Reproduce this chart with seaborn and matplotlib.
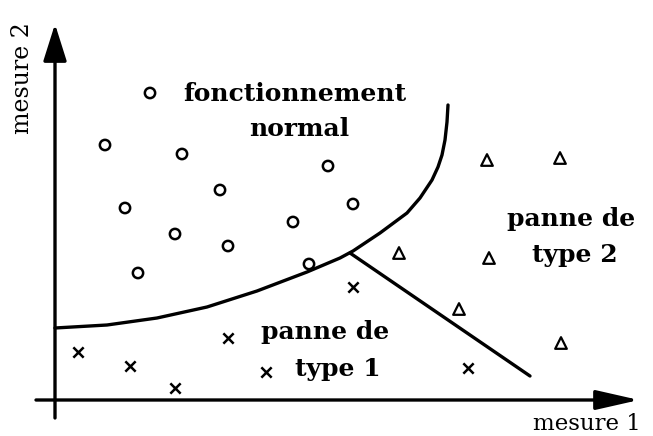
import matplotlib
matplotlib.use("Agg")
import matplotlib.pyplot as plt
import seaborn as sns

# Data (pixel-like coordinates, y downwards)
normal_x = [150, 105, 182, 220, 125, 293, 175, 228, 138, 328, 353, 309]
normal_y = [93, 145, 154, 190, 208, 222, 234, 246, 273, 166, 204, 264]
type1_x = [78, 130, 175, 228, 266, 353, 468]
type1_y = [352, 366, 388, 338, 372, 287, 368]
type2_x = [487, 560, 399, 489, 459, 561]
type2_y = [160, 158, 253, 258, 309, 343]

curve_x = [55, 107, 157, 207, 257, 307, 340, 353, 380, 407, 420, 432, 438, 442, 445, 447, 448]
curve_y = [328, 325, 318, 307, 291, 272, 258, 251, 233, 213, 198, 180, 167, 155, 140, 122, 105]
line_x = [350, 530]
line_y = [253, 376]

label_lines = ["fonctionnement", "normal", "panne de", "type 1", "panne de", "type 2"]
label_x = [295, 299, 325, 338, 571, 575]
label_y = [101, 136, 339, 376, 226, 262]

sns.set_theme(style="white")
plt.rcParams["font.family"] = ["DejaVu Serif", "Liberation Serif"]

fig = plt.figure(figsize=(6.53, 4.36), dpi=100)
ax = fig.add_axes([0, 0, 1, 1])
ax.set_xlim(0, 653)
ax.set_ylim(436, 0)
ax.axis("off")

sns.lineplot(x=curve_x, y=curve_y, sort=False, estimator=None, color="black", lw=2.4, ax=ax)
sns.lineplot(x=line_x, y=line_y, sort=False, estimator=None, color="black", lw=2.4, ax=ax)

sns.scatterplot(x=normal_x, y=normal_y, marker="o", s=55, facecolor="none",
                edgecolor="black", linewidth=1.8, ax=ax, zorder=3)
sns.scatterplot(x=type1_x, y=type1_y, marker="x", s=55, color="black",
                linewidth=1.8, ax=ax, zorder=3)
sns.scatterplot(x=type2_x, y=type2_y, marker="^", s=70, facecolor="none",
                edgecolor="black", linewidth=1.6, ax=ax, zorder=3)

# axes arrows
ax.annotate("", xy=(55, 24), xytext=(55, 418),
            arrowprops=dict(arrowstyle="-|>,head_length=1.9,head_width=0.6",
                            color="black", lw=2.4, shrinkA=0, shrinkB=0))
ax.annotate("", xy=(639, 400), xytext=(36, 400),
            arrowprops=dict(arrowstyle="-|>,head_length=2.2,head_width=0.5",
                            color="black", lw=2.4, shrinkA=0, shrinkB=0))

for t, x, y in zip(label_lines, label_x, label_y):
    ax.text(x, y, t, ha="center", va="baseline", fontsize=18, fontweight="bold",
            color="black")

ax.text(587, 430, "mesure 1", ha="center", va="baseline", fontsize=16.5, color="black")
ax.text(23, 78, "mesure 2", ha="center", va="center", fontsize=17, rotation=90, color="black")

fig.savefig("out.png", dpi=100)
